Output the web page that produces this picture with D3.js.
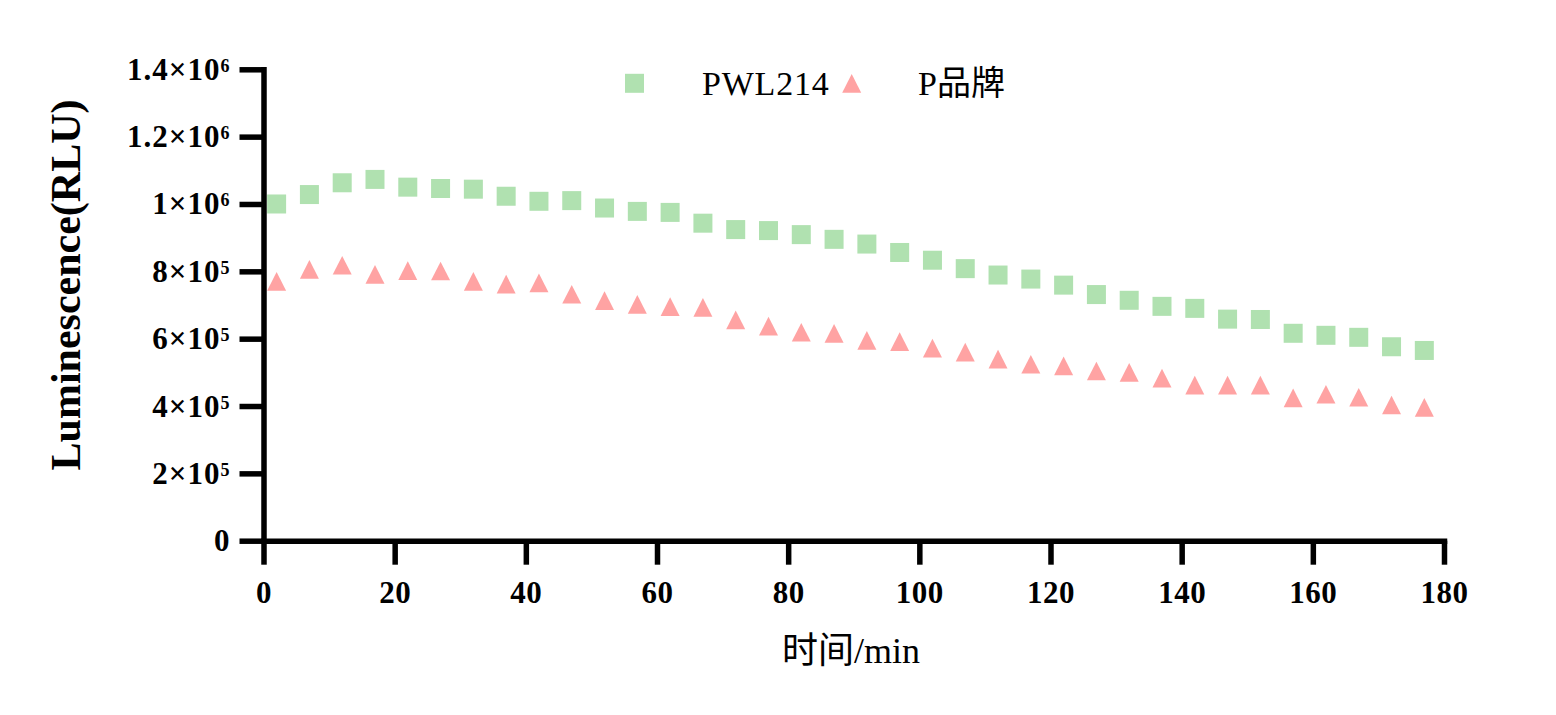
<!DOCTYPE html>
<html>
<head>
<meta charset="utf-8">
<script src="https://cdn.jsdelivr.net/npm/d3@7"></script>
<style>
  html, body { margin: 0; padding: 0; background: #ffffff; }
  svg { display: block; }
  text { font-family: "Liberation Serif", "Times New Roman", "Noto Sans CJK SC", serif; fill: #000; }
</style>
</head>
<body>
<svg id="chart" width="1556" height="715"></svg>
<script>
// ---- data ----
const timeMin = [2,7,12,17,22,27,32,37,42,47,52,57,62,67,72,77,82,87,92,97,102,107,112,117,122,127,132,137,142,147,152,157,162,167,172,177];
const pwl214 = [1000000,1028000,1063000,1073000,1050000,1046000,1044000,1023000,1008000,1010000,988000,978000,975000,943000,924000,921000,909000,895000,881000,856000,833000,808000,789000,777000,759000,731000,714000,696000,690000,658000,657000,616000,610000,604000,576000,565000];
const pBrand = [770000,806000,818000,791000,802000,801000,770000,762000,766000,732000,713000,702000,695000,693000,656000,637000,619000,616000,595000,591000,572000,560000,539000,524000,519000,504000,500000,483000,462000,462000,462000,424000,435000,426000,403000,396000];
const xTicks = [0,20,40,60,80,100,120,140,160,180];
const yTicks = [0,200000,400000,600000,800000,1000000,1200000,1400000];
const yTickMantissa = ["0","2×10","4×10","6×10","8×10","1×10","1.2×10","1.4×10"];
const yTickExp = ["","5","5","5","5","6","6","6"];
const seriesNames = ["PWL214","P品牌"];
const seriesColors = ["#b0e1b0","#ffa3a3"];
const xTitle = "时间/min";
const yTitle = "Luminescence(RLU)";

// ---- layout ----
const svg = d3.select("#chart");
const x = d3.scaleLinear().domain([0,180]).range([263.5,1444]);
const y = d3.scaleLinear().domain([0,1400000]).range([540.7,69.3]);
const MS = 19; // marker size

// axes
const gx = svg.append("g").attr("transform", `translate(0,${y(0)})`)
  .call(d3.axisBottom(x).tickValues(xTicks).tickSize(24).tickSizeOuter(0).tickFormat(d3.format("d")));
const gy = svg.append("g").attr("transform", `translate(${x(0)},0)`)
  .call(d3.axisLeft(y).tickValues(yTicks).tickSize(24).tickSizeOuter(0).tickFormat(""));

[gx, gy].forEach(g => {
  g.select(".domain").attr("stroke","#000").attr("stroke-width",5.5).attr("stroke-linecap","square");
  g.selectAll(".tick line").attr("stroke","#000").attr("stroke-width",5.5);
});
gx.selectAll(".tick text")
  .attr("y", 62).attr("dy", 0)
  .style("font-family", '"Liberation Serif", serif')
  .style("font-size", "31px").style("font-weight", "bold")
  .style("letter-spacing", "0.5px").attr("fill","#000");

// y tick labels with superscripts
gy.selectAll(".tick").each(function(d, i) {
  const t = d3.select(this).append("text")
    .attr("x", -33).attr("y", 10)
    .attr("text-anchor", "end")
    .style("font-size", "31px").style("font-weight", "bold")
    .style("letter-spacing", "1px");
  t.append("tspan").text(yTickMantissa[i]);
  if (yTickExp[i]) {
    t.append("tspan").attr("dy", -8).style("font-size", "18px").text(yTickExp[i]);
  }
});

// axis titles
svg.append("text")
  .attr("transform", `translate(80,${285}) rotate(-90)`)
  .attr("text-anchor", "middle")
  .style("font-size", "42px").style("font-weight", "bold")
  .text(yTitle);
svg.append("text")
  .attr("x", 782).attr("y", 663)
  .style("font-size", "36px")
  .text(xTitle);

// markers
function triPath(cx, cy, w, h) {
  return `M${cx},${cy - h/2}L${cx + w/2},${cy + h/2}L${cx - w/2},${cy + h/2}Z`;
}
svg.append("g").selectAll("rect").data(timeMin).join("rect")
  .attr("x", (d) => x(d) - MS/2)
  .attr("y", (d, i) => y(pwl214[i]) - MS/2)
  .attr("width", MS).attr("height", MS)
  .attr("fill", seriesColors[0]);
svg.append("g").selectAll("path").data(timeMin).join("path")
  .attr("d", (d, i) => triPath(x(d), y(pBrand[i]), 19, 18.7))
  .attr("fill", seriesColors[1]);

// legend
const leg = svg.append("g");
leg.append("rect").attr("x", 634.5 - MS/2).attr("y", 83.3 - MS/2).attr("width", MS).attr("height", MS).attr("fill", seriesColors[0]);
leg.append("text").attr("x", 702).attr("y", 95).style("font-size", "34px").style("letter-spacing", "0.8px").text(seriesNames[0]);
leg.append("path").attr("d", triPath(851.7, 83.3, 19, 18.7)).attr("fill", seriesColors[1]);
leg.append("text").attr("x", 918).attr("y", 95).style("font-size", "34px").text(seriesNames[1]);
</script>
</body>
</html>
